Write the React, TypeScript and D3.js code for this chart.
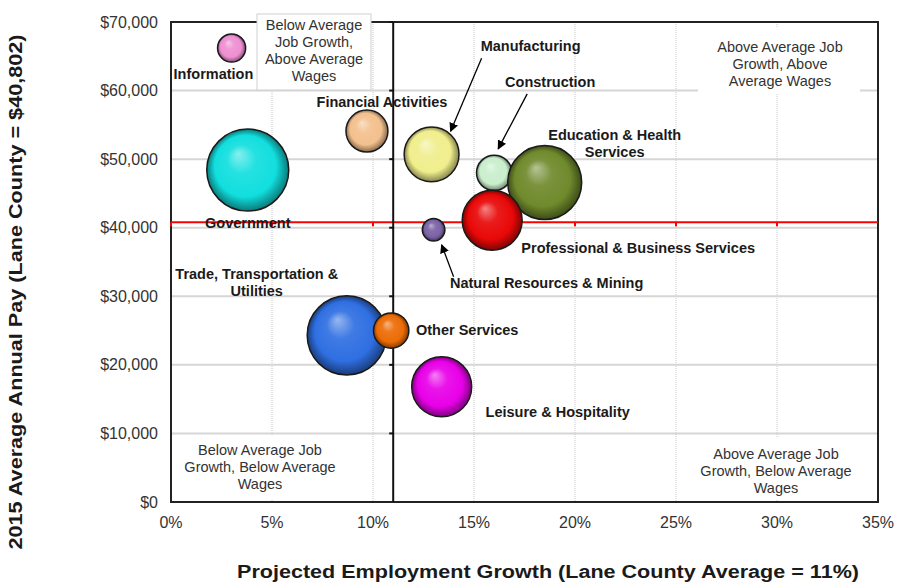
import React from "react";
import * as d3 from "d3";

// ---------- data ----------
const industries = [
  "Information",
  "Government",
  "Financial Activities",
  "Manufacturing",
  "Construction",
  "Education & Health Services",
  "Professional & Business Services",
  "Natural Resources & Mining",
  "Trade, Transportation & Utilities",
  "Other Services",
  "Leisure & Hospitality",
];
const growthPct = [3.0, 3.8, 9.7, 12.9, 16.0, 18.5, 15.9, 13.0, 8.7, 10.9, 13.4];
const avgPay = [66200, 48400, 54100, 50700, 48000, 46600, 41100, 39700, 24300, 25000, 16800];
const employment = [3400, 29000, 7600, 13000, 5400, 23600, 15500, 2200, 27000, 5400, 15500];
const colors = [
  "#ef8fd2", "#12dede", "#f3c08e", "#f0ee8c", "#c9efcc", "#6f8a2c",
  "#e80808", "#7b62a6", "#2f6fe2", "#ec6c06", "#e800e8",
];
const xTicks = [0, 5, 10, 15, 20, 25, 30, 35];
const yTicks = [0, 10000, 20000, 30000, 40000, 50000, 60000, 70000];
const avgGrowth = 11;
const avgWage = 40802;
const quadrantTexts = [
  ["Below Average", "Job Growth,", "Above Average", "Wages"],
  ["Above Average Job", "Growth, Above", "Average Wages"],
  ["Below Average Job", "Growth, Below Average", "Wages"],
  ["Above Average Job", "Growth, Below Average", "Wages"],
];

// ---------- layout (annotation placement, pixels relative to bubble) ----------
const labelLayout: { lines: string[]; dx: number; dy: number; anchor?: string }[] = [
  { lines: ["Information"], dx: -58, dy: 31, anchor: "start" },
  { lines: ["Government"], dx: 0, dy: 58 },
  { lines: ["Financial Activities"], dx: 15, dy: -24 },
  { lines: ["Manufacturing"], dx: 99, dy: -103 },
  { lines: ["Construction"], dx: 56, dy: -86 },
  { lines: ["Education & Health", "Services"], dx: 70, dy: -42 },
  { lines: ["Professional & Business Services"], dx: 146, dy: 33 },
  { lines: ["Natural Resources & Mining"], dx: 113, dy: 58 },
  { lines: ["Trade, Transportation &", "Utilities"], dx: -90, dy: -56 },
  { lines: ["Other Services"], dx: 76, dy: 4 },
  { lines: ["Leisure & Hospitality"], dx: 116, dy: 30 },
];

const W = 907;
const H = 584;
const M = { left: 171, right: 878, top: 22, bottom: 502 };

function lighten(c: string, k: number) {
  return d3.interpolateRgb(c, "#ffffff")(k);
}
function darken(c: string, k: number) {
  return d3.interpolateRgb(c, "#000000")(k);
}

export default function App() {
  const x = d3.scaleLinear().domain([0, 35]).range([M.left, M.right]);
  const y = d3.scaleLinear().domain([0, 70000]).range([M.bottom, M.top]);
  const r = d3.scaleSqrt().domain([0, 29000]).range([0, 41]);
  const font = "Arial, 'Liberation Sans', sans-serif";

  const order = d3.range(industries.length);

  const pts = order.map((i) => ({ i, cx: x(growthPct[i]), cy: y(avgPay[i]), rr: r(employment[i]) }));
  const byName = (n: string) => pts[industries.indexOf(n)];

  const mfg = byName("Manufacturing");
  const con = byName("Construction");
  const nat = byName("Natural Resources & Mining");
  const arrows = [
    { x1: mfg.cx + 50, y1: mfg.cy - 96, x2: mfg.cx + 19, y2: mfg.cy - 23 },
    { x1: con.cx + 33, y1: con.cy - 79, x2: con.cx + 4, y2: con.cy - 24 },
    { x1: nat.cx + 20, y1: nat.cy + 47, x2: nat.cx + 8, y2: nat.cy + 15 },
  ];

  const boxes = [
    { x0: 257, x1: 371, y0: 14, y1: 90, cx: 314, ys: [30, 47, 64, 81], border: true },
    { x0: 698, x1: 860, y0: 28, y1: 93, cx: 780, ys: [52, 69, 86], border: false },
    { x0: 174, x1: 350, y0: 435, y1: 500, cx: 260, ys: [455, 472, 489], border: false },
    { x0: 690, x1: 862, y0: 437, y1: 500, cx: 776, ys: [459, 476, 493], border: false },
  ];

  const yAvg = y(avgWage);
  const xAvg = x(avgGrowth);

  return (
    <svg width={W} height={H} style={{ position: "absolute", left: 0, top: 0, background: "#fff" }} fontFamily={font}>
      <defs>
        {order.map((i) => (
          <radialGradient key={i} id={`g${i}`} cx="50%" cy="50%" r="50%" fx="38%" fy="30%">
            <stop offset="0%" stopColor={lighten(colors[i], 0.5)} />
            <stop offset="35%" stopColor={lighten(colors[i], 0.08)} />
            <stop offset="75%" stopColor={colors[i]} />
            <stop offset="100%" stopColor={darken(colors[i], 0.45)} />
          </radialGradient>
        ))}
        <marker id="ah" viewBox="0 0 10 10" refX="9" refY="5" markerWidth="7" markerHeight="7" orient="auto">
          <path d="M0,0 L10,5 L0,10 z" fill="#000" />
        </marker>
      </defs>

      {/* gridlines */}
      {xTicks.slice(1, -1).map((t) => (
        <line key={`vx${t}`} x1={x(t)} x2={x(t)} y1={M.top} y2={M.bottom} stroke="#c8c8c8" strokeWidth={1} strokeDasharray="1,1" />
      ))}
      {yTicks.slice(1, -1).map((t) => (
        <line key={`hy${t}`} x1={M.left} x2={M.right} y1={y(t)} y2={y(t)} stroke="#d6d6d6" strokeWidth={2} />
      ))}

      {/* frame */}
      <rect x={M.left} y={M.top} width={M.right - M.left} height={M.bottom - M.top} fill="none" stroke="#222" strokeWidth={2} />

      {/* quadrant boxes */}
      {boxes.map((b, k) => (
        <g key={`box${k}`}>
          <rect x={b.x0} y={b.y0} width={b.x1 - b.x0} height={b.y1 - b.y0} fill="#fff" stroke={b.border ? "#cfcfcf" : "none"} strokeWidth={1} />
          {quadrantTexts[k].map((s, j) => (
            <text key={j} x={b.cx} y={b.ys[j]} textAnchor="middle" fontSize={14.5} fill="#333">
              {s}
            </text>
          ))}
        </g>
      ))}

      {/* average wage line */}
      <line x1={M.left} x2={M.right} y1={yAvg} y2={yAvg} stroke="#ff0000" strokeWidth={2} />
      {xTicks.slice(0, -1).map((t) => (
        <line key={`rt${t}`} x1={x(t)} x2={x(t)} y1={yAvg} y2={yAvg + 4} stroke="#ff0000" strokeWidth={2} />
      ))}
      {/* average growth line */}
      <line x1={xAvg} x2={xAvg} y1={M.top} y2={M.bottom} stroke="#111" strokeWidth={2} />
      {yTicks.slice(1).map((t) => (
        <line key={`bt${t}`} x1={xAvg - 4} x2={xAvg} y1={y(t)} y2={y(t)} stroke="#111" strokeWidth={2} />
      ))}

      {/* bubbles */}
      {pts.map((p) => (
        <circle key={`c${p.i}`} cx={p.cx} cy={p.cy} r={p.rr} fill={`url(#g${p.i})`} stroke="#1a1a1a" strokeWidth={1.5} />
      ))}

      {/* labels */}
      {pts.map((p) => {
        const L = labelLayout[p.i];
        return (
          <text key={`l${p.i}`} fontSize={14.5} fontWeight="bold" fill="#1a1a1a" textAnchor={L.anchor || "middle"}>
            {L.lines.map((s, j) => (
              <tspan key={j} x={p.cx + L.dx} y={p.cy + L.dy + j * 17}>
                {s}
              </tspan>
            ))}
          </text>
        );
      })}

      {/* arrows */}
      {arrows.map((a, k) => (
        <line key={`a${k}`} x1={a.x1} y1={a.y1} x2={a.x2} y2={a.y2} stroke="#000" strokeWidth={1.3} markerEnd="url(#ah)" />
      ))}

      {/* axes tick labels */}
      {yTicks.map((t) => (
        <text key={`yl${t}`} x={158} y={y(t) + 5.5} textAnchor="end" fontSize={16} fill="#333">
          {d3.format("$,")(t)}
        </text>
      ))}
      {xTicks.map((t) => (
        <text key={`xl${t}`} x={x(t)} y={528} textAnchor="middle" fontSize={16} fill="#333">
          {`${t}%`}
        </text>
      ))}

      {/* axis titles */}
      <text x={548} y={578} textAnchor="middle" fontSize={18} fontWeight="bold" fill="#1a1a1a" textLength={622} lengthAdjust="spacingAndGlyphs">
        Projected Employment Growth (Lane County Average = 11%)
      </text>
      <text transform={`translate(22,${292}) rotate(-90)`} textAnchor="middle" fontSize={18} fontWeight="bold" fill="#1a1a1a" textLength={515} lengthAdjust="spacingAndGlyphs">
        2015 Average Annual Pay (Lane County = $40,802)
      </text>
    </svg>
  );
}
